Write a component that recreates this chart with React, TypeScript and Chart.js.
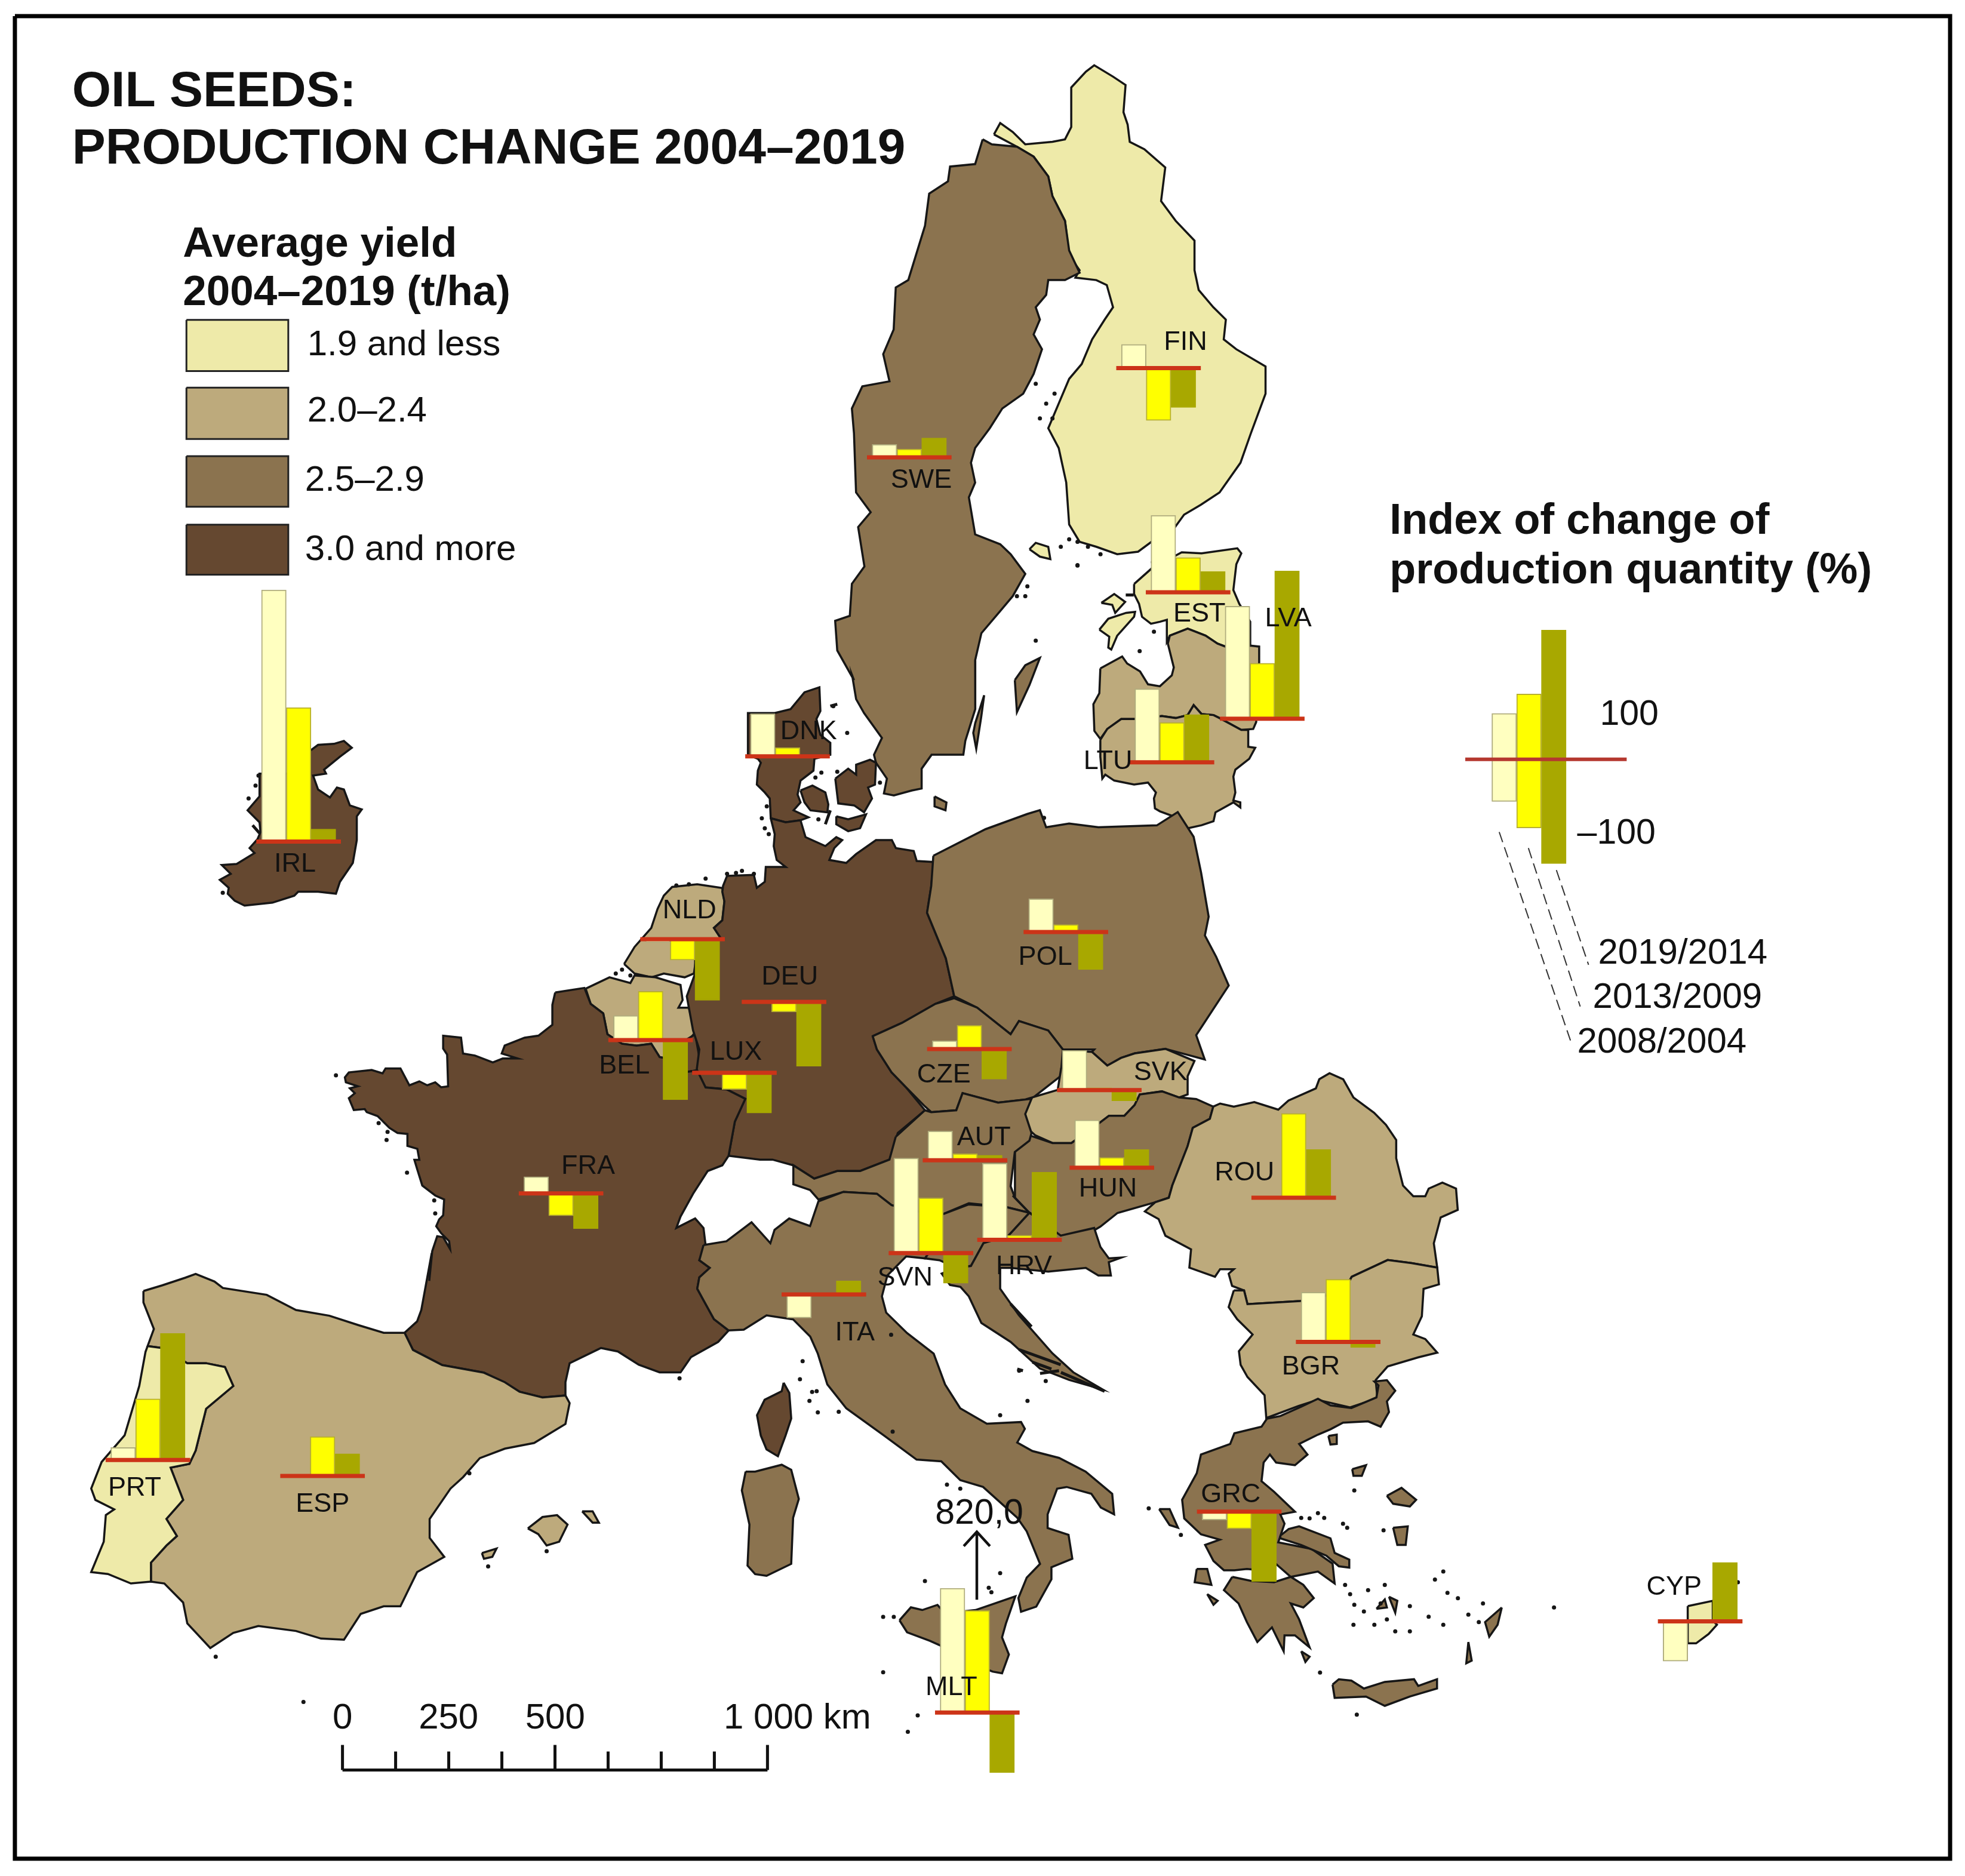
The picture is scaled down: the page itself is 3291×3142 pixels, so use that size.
import React, { useEffect, useRef } from "react";
import { Chart, registerables } from "chart.js";

Chart.register(...registerables);

const W = 3291;
const H = 3142;
const D = 2.103; // preview unit -> picture pixel

type P = [number, number];

// Tracing frames for the outlines (origin + stretch of the view they were read from)
const frame = (x0: number, y0: number, sx: number, sy: number) => (pts: P[]): P[] =>
  pts.map(([x, y]) => [x0 + x / sx, y0 + y / sy] as P);
const M = frame(0, 0, 1 / D, 1 / D);
const C2 = frame(1100, 60, 1.4255, 1.206);
const C4 = frame(900, 1350, 1.4255, 1.568);
const C5 = frame(1700, 1650, 1.742, 1.96);
const C6 = frame(100, 2100, 1.4255, 1.568);
const C7 = frame(1200, 2200, 1.568, 1.742);
const C8 = frame(1900, 2300, 1.4255, 2.24);
const Z1 = frame(540, 1650, 3, 3);
const Z2 = frame(340, 1200, 3, 3);
const Z3 = frame(1200, 1130, 3, 3);
const Z4 = frame(1800, 900, 3, 3);

const YIELD_LOW = "#EEEAA9";
const YIELD_MID = "#BDAA7C";
const YIELD_HIGH = "#8B734F";
const YIELD_TOP = "#654830";

// ---- chart values ----
const countries = ["IRL","FIN","SWE","EST","LVA","LTU","DNK","NLD","BEL","LUX","DEU","POL","CZE","SVK","AUT","HUN","FRA","ROU","SVN","HRV","ITA","BGR","PRT","ESP","GRC","CYP","MLT"];
const index2008 = [543,51,28,166,243,159,92,-7,53,-1,1,72,18,86,63,103,36,0,205,165,-51,107,27,0,-18,-86,820];
const index2013 = [289,-113,18,75,120,86,19,-45,105,-36,-22,16,51,5,14,22,-48,182,119,10,3,135,132,85,-37,0,220];
const index2019 = [27,-85,42,45,319,103,3,-132,-129,-87,-139,-81,-65,-23,11,39,-76,104,-65,146,29,-12,273,48,-151,127,-130];
const legendUp = [99, 141, 279];
const legendDown = [-91, -148, -225];
const cutOff: Record<string, number> = { MLT: 268 };

const periods = ["2008/2004", "2013/2009", "2019/2014"];
const legendClasses = ["1.9 and less", "2.0–2.4", "2.5–2.9", "3.0 and more"];
const scaleKm = [0, 125, 250, 375, 500, 625, 750, 875, 1000];
const scaleLabels = ["0", "250", "500"];

// baseline centre of each glyph, preview units
const glyphX = [236.5,923,724,946.6,1005.8,933.7,626.8,543,517.5,584.4,624,849,772,875.7,768.5,885.7,446,1030.9,741.3,812,655.8,1066.4,116.2,255.6,987.4,1355.4,778.3];
const glyphY = [670,292,363.3,471,572,606.8,602,748,828.5,854.6,798,742.3,835.7,868.5,924.5,930.4,951,954.4,998.6,988,1031.6,1069.5,1163.8,1176.6,1205,1292.6,1365.4];
// label centre of each code, preview units
const labelX = [235,946,735,957,1028,884,645,550,498,587,630,834,753,926,785,884,469,993,722,817,682,1046,107,257,982,1336,759];
const labelY = [689,272,382,489,493,607,583,726,850,839,779,763,857,855,907,948,930,935,1019,1010,1063,1090,1187,1200,1192,1266,1346];

// ---- outlines ----
const shapes: { c: string; p: P[] }[] = [
  { c: YIELD_LOW, p: C2([[805,195],[820,172],[850,190],[880,215],[945,210],[975,205],[990,180],[990,100],[1025,68],[1045,55],[1090,78],[1120,95],[1115,150],[1125,175],[1130,210],[1165,225],[1215,262],[1205,330],[1240,370],[1285,410],[1285,470],[1295,510],[1330,545],[1360,570],[1355,610],[1385,630],[1455,665],[1455,720],[1420,800],[1395,860],[1345,920],[1300,945],[1260,965],[1230,1000],[1190,1015],[1150,1040],[1100,1045],[1050,1030],[1010,1020],[985,985],[978,900],[960,830],[935,790],[960,740],[985,690],[1015,660],[1040,610],[1070,570],[1090,545],[1075,500],[1050,490],[1000,485],[1010,470],[985,440],[975,370],[945,320],[935,280],[900,240],[860,220]]) },
  { c: YIELD_HIGH, p: [...C2([[778,205],[800,215],[860,220],[900,240],[935,280],[945,320],[975,370],[985,430],[1010,475],[975,490],[935,490],[930,520],[905,545],[915,570],[900,600],[920,630],[900,680],[875,720],[825,750],[795,790],[760,830],[750,860],[760,900],[745,930],[760,1005],[820,1025],[845,1045],[880,1085],[850,1130],[820,1160],[775,1205],[760,1260]]), ...Z3([[1300,0],[1300,170],[1250,330],[1240,400],[1080,400],[1030,470],[1030,570],[980,580],[890,605],[840,595],[855,520],[800,440],[790,400],[830,315],[740,190],[700,120],[680,0]]), ...C2([[470,1300],[430,1240],[425,1180],[460,1170],[465,1105],[495,1070],[480,990],[510,960],[475,920],[470,800],[465,750],[490,705],[555,695],[540,640],[565,590],[570,505],[600,490],[640,380],[650,315],[695,290],[700,260],[760,255]])] },
  { c: YIELD_HIGH, p: C2([[855,1300],[880,1270],[915,1255],[890,1310],[860,1365]]) },
  { c: YIELD_HIGH, p: Z3([[1345,100],[1330,210],[1305,370],[1290,290],[1300,240]]) },
  { c: YIELD_HIGH, p: Z3([[1095,610],[1155,640],[1150,680],[1095,660]]) },
  { c: YIELD_LOW, p: Z4([[300,230],[390,150],[410,140],[540,70],[640,75],[820,50],[840,75],[815,130],[800,260],[830,330],[885,420],[885,535],[760,545],[720,530],[660,490],[570,455],[480,490],[465,520],[465,410],[430,420],[385,430],[340,395],[325,330],[300,280]]) },
  { c: YIELD_LOW, p: Z4([[125,460],[170,405],[260,375],[305,370],[300,395],[215,490],[185,560],[170,550],[175,495]]) },
  { c: YIELD_LOW, p: Z4([[135,325],[200,280],[255,320],[205,375],[190,335]]) },
  { c: YIELD_LOW, p: C2([[890,1035],[905,1022],[935,1030],[940,1055],[915,1050]]) },
  { c: YIELD_MID, p: Z4([[130,655],[240,595],[265,630],[330,670],[370,735],[430,745],[490,690],[500,650],[470,530],[480,490],[570,455],[660,490],[720,530],[760,545],[885,540],[930,545],[930,625],[915,925],[900,960],[840,965],[730,905],[700,890],[640,885],[600,840],[570,890],[510,905],[440,895],[310,910],[235,910],[165,960],[130,1010],[100,970],[95,835],[125,780]]) },
  { c: YIELD_MID, p: Z4([[130,1015],[165,960],[235,910],[310,910],[440,895],[510,905],[570,890],[600,840],[640,885],[700,890],[730,905],[840,965],[875,965],[875,1050],[910,1055],[880,1110],[810,1165],[800,1200],[810,1280],[800,1320],[835,1330],[835,1355],[800,1330],[710,1380],[700,1425],[640,1445],[550,1465],[525,1410],[430,1375],[405,1360],[400,1310],[410,1280],[370,1230],[300,1240],[200,1220],[155,1190],[140,1210],[130,1100]]) },
  { c: YIELD_TOP, p: Z3([[290,190],[370,170],[440,85],[515,60],[520,180],[500,220],[520,300],[570,340],[570,400],[490,420],[485,480],[420,530],[405,600],[420,640],[385,680],[460,715],[420,730],[345,740],[270,720],[265,620],[240,590],[200,550],[205,480],[220,440],[205,420],[155,400],[155,190]]) },
  { c: YIELD_TOP, p: Z3([[595,520],[660,470],[700,500],[700,450],[770,425],[800,440],[795,550],[760,565],[780,620],[740,690],[690,655],[610,645]]) },
  { c: YIELD_TOP, p: Z3([[420,580],[480,555],[545,590],[560,650],[555,690],[470,680],[440,640]]) },
  { c: YIELD_TOP, p: Z3([[600,710],[660,725],[750,700],[720,770],[660,785],[600,750]]) },
  { c: YIELD_TOP, p: Z2([[530,170],[570,140],[650,135],[700,120],[740,155],[680,200],[600,265],[610,285],[545,295],[570,365],[630,405],[665,355],[700,365],[730,445],[790,465],[765,500],[765,620],[745,735],[680,830],[660,890],[570,880],[470,880],[450,900],[340,935],[200,950],[150,925],[115,890],[120,860],[75,820],[130,790],[85,745],[160,740],[250,685],[225,660],[265,615],[280,580],[275,530],[215,470],[275,400],[275,285],[530,285]]) },
  { c: YIELD_MID, p: C4([[205,415],[230,370],[270,320],[285,270],[300,235],[320,212],[380,205],[440,215],[445,250],[440,300],[420,320],[435,345],[378,395],[372,440],[350,450],[300,440],[270,450],[230,440]]) },
  { c: YIELD_MID, p: C4([[113,480],[170,450],[220,465],[230,445],[280,450],[340,470],[345,510],[335,530],[360,530],[375,595],[360,615],[345,620],[335,670],[290,660],[270,625],[235,630],[200,625],[165,600],[155,545],[125,520]]) },
  { c: YIELD_TOP, p: C4([[345,620],[375,600],[385,660],[380,695],[350,700],[335,670]]) },
  { c: YIELD_TOP, p: [...Z3([[270,720],[290,800],[285,860],[300,930],[345,965],[245,965],[240,1040],[200,1070],[185,1005],[50,1010],[30,1060]]), ...C4([[440,225],[445,250],[440,300],[420,320],[435,345],[375,400],[375,440],[355,500],[370,590],[385,640],[378,700],[400,740],[450,745],[495,770],[470,830],[455,920],[530,930],[560,930],[610,945],[660,980],[715,960],[770,960],[840,930],[860,860],[925,800],[880,740],[845,700],[810,640],[800,605],[870,570],[950,520],[995,500],[975,400],[930,280],[940,210],[945,160]]), ...Z3([[1090,940],[1005,935],[990,885],[900,870],[880,830],[800,830],[700,900],[650,945],[565,930],[590,870],[630,830],[600,815],[545,860],[445,815],[420,730],[345,740]])] },
  { c: YIELD_TOP, p: [...C4([[40,490],[110,478],[125,520],[155,545],[165,600],[200,625],[235,630],[270,625],[290,660],[335,670],[350,700],[380,695],[400,740],[450,745],[495,770],[470,830],[455,920],[440,945],[405,960],[370,1020],[340,1080],[330,1110],[375,1085],[395,1110],[400,1155],[385,1195],[410,1215],[385,1240],[380,1270],[395,1300],[420,1350],[455,1380],[430,1410],[365,1450],[340,1490],[290,1490],[240,1470],[190,1435]]), ...C6([[1290,250],[1215,290],[1205,340],[1205,375],[1150,380],[1095,365],[1010,315],[910,295],[840,255],[820,210],[850,180],[860,150],[885,0]]), ...Z1([[530,1490],[545,1340],[570,1265],[600,1270],[635,1330],[630,1290],[590,1250],[565,1215],[580,1180],[600,1160],[605,1080],[560,1060],[495,1010],[470,930],[455,880],[480,880],[470,825],[420,810],[420,750],[370,745],[330,720],[270,660],[215,640],[205,625],[150,630],[125,570],[155,545],[130,520],[170,510],[110,490],[105,465],[125,440],[240,428],[295,445],[310,420],[385,420],[430,505],[480,485],[520,505],[560,490],[590,515],[625,510],[620,350],[600,320],[600,255],[690,265],[700,345],[760,355],[850,390],[900,370],[975,370],[895,345],[910,305],[1010,265],[1080,255],[1150,200],[1150,100]])] },
  { c: YIELD_TOP, p: C7([[175,205],[190,235],[195,310],[180,360],[160,420],[130,400],[115,360],[105,300],[125,255],[170,230]]) },
  { c: YIELD_HIGH, p: C4([[945,130],[1070,60],[1170,20],[1200,10],[1215,55],[1270,45],[1340,55],[1480,50],[1530,15],[1568,80]]).concat(M([[957,695],[963,730],[960,745],[969,762],[979,785]]), C5([[530,165],[555,245],[440,210],[350,225],[310,240],[270,265],[225,220]]), C4([[1330,640],[1255,640],[1220,590],[1150,565],[1130,600],[1050,530],[995,500],[975,400],[930,280],[940,210]])) },
  { c: YIELD_HIGH, p: C4([[800,605],[870,570],[950,520],[995,505],[1050,530],[1130,600],[1150,565],[1220,590],[1255,640],[1250,710],[1180,770],[1100,780],[1015,755],[1000,800],[940,805],[925,790],[880,740],[845,700],[810,640]]) },
  { c: YIELD_MID, p: C5([[25,425],[35,375],[125,345],[135,275],[150,215],[225,220],[270,265],[310,240],[350,225],[440,210],[525,250],[505,300],[505,360],[480,370],[430,350],[365,360],[350,395],[320,430],[275,430],[240,460],[165,520],[110,520],[60,495],[30,465]]) },
  { c: YIELD_HIGH, p: C5([[30,490],[110,520],[165,520],[240,460],[275,430],[320,430],[350,395],[365,360],[430,350],[480,370],[530,375],[580,400],[570,440],[520,470],[505,530],[460,660],[450,700],[410,715],[300,750],[250,795],[205,825],[130,825],[50,755],[0,720],[0,640],[0,540]]) },
  { c: YIELD_HIGH, p: C4([[855,870],[925,800],[940,805],[1000,800],[1015,755],[1100,780],[1180,770],[1165,810],[1180,860],[1175,880],[1140,910],[1130,1000],[1140,1030],[1175,1070],[1120,1055],[1030,1045],[965,1075],[900,1065],[845,1050],[810,1020],[730,1015],[670,1035],[650,1010],[610,995],[610,945],[660,980],[715,960],[770,960],[840,930]]) },
  { c: YIELD_HIGH, p: C4([[965,1075],[1030,1048],[1120,1055],[1175,1070],[1125,1130],[1065,1150],[1035,1210],[1000,1215],[960,1195],[925,1190],[950,1150],[965,1110]]) },
  { c: YIELD_HIGH, p: C4([[1135,1025],[1175,1070],[1250,1130],[1330,1110],[1345,1160],[1365,1190],[1395,1188],[1365,1200],[1370,1235],[1340,1235],[1310,1215],[1220,1225],[1130,1215],[1105,1215],[1105,1270],[1150,1340],[1230,1440],[1280,1490],[1350,1535],[1270,1510],[1200,1480],[1130,1410],[1060,1360],[1030,1290],[1010,1265],[985,1260],[965,1230],[1000,1215],[1035,1210],[1065,1150],[1125,1130],[1175,1070]]) },
  { c: YIELD_HIGH, p: [...C4([[395,1155],[450,1145],[510,1095],[555,1150],[565,1115],[600,1085],[650,1105],[670,1040],[730,1015],[810,1020],[845,1050],[900,1065],[965,1075],[965,1110],[950,1150],[925,1190],[880,1185],[835,1235],[822,1290]]), ...C7([[445,0],[500,60],[570,120],[600,210],[640,280],[710,325],[800,320],[810,340],[790,380],[830,405],[900,425],[970,465],[1040,530],[1045,590],[1010,570],[985,530],[920,510],[895,515],[870,590],[870,630],[925,650],[935,720],[880,745],[880,780],[840,860],[800,875],[793,835],[815,775],[850,735],[815,640],[790,600],[700,510],[640,490],[590,435],[525,430],[440,360],[340,280],[290,210],[265,120],[245,70],[200,20],[130,8],[70,50],[30,52]]), ...C4([[420,1350],[395,1300],[380,1270],[385,1240],[410,1215],[385,1195]])] },
  { c: YIELD_HIGH, p: C7([[75,465],[100,465],[170,445],[195,460],[215,545],[200,600],[195,735],[130,770],[100,765],[80,740],[85,620],[65,520]]) },
  { c: YIELD_HIGH, p: C7([[480,900],[510,862],[540,870],[580,855],[600,880],[680,870],[720,855],[785,830],[760,910],[750,950],[768,1000],[750,1055],[725,1050],[680,1030],[610,985],[560,960],[500,935]]) },
  { c: YIELD_MID, p: C5([[580,400],[600,390],[640,400],[700,385],[770,410],[800,380],[880,340],[890,310],[920,290],[960,310],[990,370],[1050,420],[1085,460],[1115,510],[1115,570],[1135,660],[1165,695],[1200,695],[1210,670],[1250,650],[1290,670],[1295,740],[1245,765],[1225,850],[1235,930],[1160,915],[1090,905],[985,960],[960,1010],[835,1040],[680,1050],[670,1005],[635,990],[625,950],[640,935],[600,935],[585,960],[510,930],[515,870],[440,825],[420,770],[380,745],[410,715],[450,700],[460,660],[505,530],[520,470],[570,440]]) },
  { c: YIELD_MID, p: C5([[640,1005],[670,1005],[680,1050],[835,1040],[960,1010],[985,960],[1090,905],[1160,915],[1235,930],[1240,985],[1195,1000],[1190,1090],[1165,1150],[1200,1165],[1235,1210],[1180,1225],[1090,1255],[1055,1300],[1060,1360],[980,1390],[885,1365],[830,1385],[735,1425],[730,1350],[680,1290],[660,1250],[655,1205],[695,1150],[650,1100],[625,1060]]) },
  { c: YIELD_HIGH, p: C8([[318,175],[350,165],[400,130],[440,100],[470,125],[520,135],[580,95],[585,50],[575,35],[605,30],[625,70],[605,110],[610,150],[590,205],[560,185],[500,190],[470,215],[440,235],[395,270],[415,310],[385,350],[340,340],[325,310],[310,340],[305,410],[335,450],[385,525],[350,535],[360,570],[345,640],[425,665],[475,720],[480,795],[440,750],[375,770],[335,715],[335,750],[270,740],[240,745],[215,745],[190,710],[170,650],[205,630],[160,610],[120,550],[115,480],[150,380],[160,310],[230,270],[240,230],[305,205]]) },
  { c: YIELD_HIGH, p: C8([[235,770],[280,785],[335,790],[375,770],[405,800],[430,850],[405,885],[375,870],[395,930],[420,1035],[385,990],[360,990],[358,1050],[330,960],[295,1015],[270,940],[250,870],[215,820]]) },
  { c: YIELD_HIGH, p: C8([[350,615],[370,590],[395,580],[470,625],[480,680],[515,705],[515,735],[490,730],[460,690],[400,650],[350,625]]) },
  { c: YIELD_HIGH, p: C8([[475,1175],[490,1155],[520,1160],[550,1190],[600,1165],[670,1155],[680,1180],[725,1155],[725,1190],[660,1220],[600,1255],[555,1220],[480,1225]]) },
  { c: YIELD_HIGH, p: C8([[605,465],[640,435],[675,480],[660,505],[620,495]]) },
  { c: YIELD_HIGH, p: C8([[620,585],[655,580],[650,650],[630,650]]) },
  { c: YIELD_HIGH, p: C8([[880,885],[870,950],[850,995],[840,940]]) },
  { c: YIELD_HIGH, p: C8([[465,240],[485,235],[485,270],[470,272]]) },
  { c: YIELD_HIGH, p: C8([[522,365],[555,350],[545,390],[525,390]]) },
  { c: YIELD_HIGH, p: C8([[60,515],[85,515],[105,585],[85,575]]) },
  { c: YIELD_HIGH, p: C8([[150,740],[175,740],[185,800],[145,790]]) },
  { c: YIELD_HIGH, p: C8([[175,835],[200,860],[190,875]]) },
  { c: YIELD_HIGH, p: C8([[400,1050],[420,1070],[410,1090]]) },
  { c: YIELD_HIGH, p: C8([[800,1015],[808,1085],[795,1095]]) },
  { c: YIELD_HIGH, p: C8([[580,890],[600,855],[605,885]]) },
  { c: YIELD_HIGH, p: C8([[610,845],[630,860],[625,905]]) },
  { c: YIELD_LOW, p: C8([[1325,880],[1385,860],[1385,935],[1395,950],[1375,985],[1345,1020],[1325,1020]]) },
  { c: YIELD_MID, p: C6([[195,100],[240,85],[295,65],[320,55],[365,75],[385,92],[490,110],[560,150],[640,165],[710,190],[770,210],[820,210],[840,255],[910,295],[1010,315],[1060,340],[1095,365],[1150,380],[1205,375],[1215,395],[1205,450],[1130,500],[1060,515],[1000,540],[960,590],[930,620],[880,700],[880,750],[915,800],[850,840],[810,930],[770,930],[715,950],[675,1018],[620,1015],[560,995],[470,982],[410,1000],[355,1040],[300,975],[290,920],[245,870],[213,865],[213,815],[250,770],[275,745],[250,700],[290,650],[260,565],[305,555],[320,520],[345,410],[410,350],[390,300],[345,290],[300,290],[240,250],[205,245],[220,200],[195,130]]) },
  { c: YIELD_LOW, p: C6([[205,245],[240,250],[300,290],[345,290],[390,300],[410,350],[345,410],[320,520],[305,555],[260,565],[290,650],[250,700],[275,745],[250,770],[213,815],[213,865],[165,870],[110,845],[70,840],[100,760],[105,690],[125,675],[80,650],[70,620],[95,550],[150,480],[185,350],[200,260]]) },
  { c: YIELD_MID, p: C6([[1115,725],[1150,695],[1185,690],[1210,715],[1190,760],[1160,770],[1140,740]]) },
  { c: YIELD_MID, p: C6([[1245,680],[1270,680],[1285,710],[1270,710]]) },
  { c: YIELD_MID, p: C6([[1005,790],[1040,778],[1030,800],[1010,805]]) },
];

const specks: P[] = [
  ...C7([[225,142],[218,195],[262,230],[250,232],[243,258],[265,292],[320,290],[462,348],[605,503],[640,515],[745,300],[817,258],[745,762],[547,785],[715,805],[722,818],[437,890],[465,890],[437,1052],[528,1178],[502,1226],[795,170],[865,200],[458,65]]),
  ...C2([[905,700],[930,740],[950,720],[915,770],[945,770],[965,1030],[985,1015],[1005,1020],[1030,1030],[1060,1045],[1005,1068],[885,1110],[860,1130],[880,1130],[905,1220]]),
  ...C8([[35,512],[400,548],[420,550],[455,548],[440,530],[500,570],[510,585],[527,445],[597,595],[505,800],[517,835],[527,875],[550,900],[560,820],[600,800],[590,870],[660,880],[705,920],[740,750],[720,780],[750,830],[775,850],[835,870],[800,912],[825,940],[525,950],[575,950],[605,930],[625,975],[660,975],[740,950],[1005,885],[445,1130],[533,1288],[1445,790],[112,612]]),
  ...C4([[330,208],[360,205],[400,190],[200,430],[220,445],[185,440],[1210,30]]),
  ...C6([[975,580],[1160,785],[1020,825],[1478,330],[368,1063],[578,1182]]),
  ...Z1([[60,455],[275,695],[320,740],[315,780],[418,945],[555,1085],[560,1150]]),
  ...Z2([[270,295],[255,345],[220,410],[90,885]]),
  ...Z3([[655,290],[585,155],[525,490],[605,485],[495,515],[510,725],[250,660],[240,770],[260,800],[225,720],[50,1000],[95,995],[125,985],[185,1000],[820,540]]),
  ...Z4([[400,470],[328,568],[395,120],[15,135]]),
];

const strokes: P[][] = [
  C7([[830,145],[880,165]]),
  C7([[850,178],[900,170]]),
  C7([[905,175],[1020,230]]),
  C7([[790,165],[805,170]]),
  C4([[1130,1310],[1180,1370]]),
  C4([[1150,1430],[1250,1470]]),
  Z2([[240,545],[275,585]]),
  Z3([[570,155],[605,145]]),
  Z3([[545,750],[570,680]]),
  Z4([[258,285],[298,285]]),
];

const frameBox: P[] = [[21, 23], [3270, 23], [3270, 3117], [21, 3117]];
const swatchTop = [533, 647, 762, 877];
const swatchBottom = [619, 733, 847, 961];
const swatchColors = [YIELD_LOW, YIELD_MID, YIELD_HIGH, YIELD_TOP];

const leaders: P[][] = [
  [[2513, 1393], [2635, 1750]],
  [[2562, 1420], [2649, 1686]],
  [[2609, 1457], [2663, 1616]],
];

// ---- helpers ----
const UNIT = 0.778; // picture pixels per index point
const xy = (p: P) => ({ x: p[0], y: p[1] });
const closed = (p: P[]) => [...p, p[0]].map(xy);
const gap = { x: null as any, y: null as any };
const breakJoin = (list: P[][]) => list.flatMap((s) => [...s.map(xy), gap]);

const barData = (vals: number[], i: number) => {
  const items: any[] = vals.map((v, k) => {
    const base = glyphY[k] * D;
    const shown = cutOff[countries[k]] && i === 0 ? cutOff[countries[k]] : v;
    return { x: glyphX[k] * D, y: v === 0 ? null : [base, base - shown * UNIT] };
  });
  const lb = 1271;
  items.push({ x: 2563, y: [lb, lb - legendUp[i] * UNIT] });
  items.push({ x: 2563, y: [lb, lb - legendDown[i] * UNIT] });
  return items;
};

const F = "'Liberation Sans', Arial, sans-serif";
type T = { t: string; x: number; y: number; s: number; b?: boolean; a?: CanvasTextAlign };
const texts: T[] = [
  { t: "OIL SEEDS:", x: 117, y: 144, s: 84, b: true },
  { t: "PRODUCTION CHANGE 2004–2019", x: 117, y: 240, s: 84, b: true },
  { t: "Average yield", x: 303, y: 401, s: 71, b: true },
  { t: "2004–2019 (t/ha)", x: 303, y: 483, s: 71, b: true },
  { t: legendClasses[0], x: 512, y: 571, s: 60 },
  { t: legendClasses[1], x: 512, y: 682, s: 60 },
  { t: legendClasses[2], x: 508, y: 798, s: 60 },
  { t: legendClasses[3], x: 508, y: 915, s: 60 },
  { t: "Index of change of", x: 2329, y: 866, s: 72, b: true },
  { t: "production quantity (%)", x: 2329, y: 949, s: 72, b: true },
  { t: "100", x: 2682, y: 1192, s: 59 },
  { t: "–100", x: 2644, y: 1391, s: 59 },
  { t: periods[2], x: 2679, y: 1592, s: 60 },
  { t: periods[1], x: 2670, y: 1667, s: 60 },
  { t: periods[0], x: 2644, y: 1742, s: 60 },
  { t: scaleLabels[0], x: 571, y: 2877, s: 60, a: "center" },
  { t: scaleLabels[1], x: 749, y: 2877, s: 60, a: "center" },
  { t: scaleLabels[2], x: 928, y: 2877, s: 60, a: "center" },
  { t: "1 000 km", x: 1211, y: 2877, s: 60 },
  { t: "820,0", x: 1640, y: 2533, s: 59, a: "center" },
  ...countries.map((c, k): T => ({ t: c, x: labelX[k] * D - 3, y: labelY[k] * D - 5, s: 45, a: "center" })),
];

const textPlugin = {
  id: "mapText",
  afterDatasetsDraw(chart: any) {
    const ctx = chart.ctx;
    const xs = chart.scales.x;
    const ys = chart.scales.y;
    ctx.save();
    ctx.fillStyle = "#111";
    ctx.textBaseline = "alphabetic";
    for (const t of texts) {
      ctx.font = `${t.b ? "bold " : ""}${t.s}px ${F}`;
      ctx.textAlign = t.a || "left";
      ctx.fillText(t.t, xs.getPixelForValue(t.x), ys.getPixelForValue(t.y) + t.s * 0.36);
    }
    ctx.restore();
  },
};

const buildDatasets = () => {
  const ds: any[] = [];
  const poly = (p: P[], c: string, order: number, bw = 3.5, bc = "#161616") =>
    ds.push({ type: "line", data: closed(p), fill: "shape", backgroundColor: c, borderColor: bc, borderWidth: bw, pointRadius: 0, tension: 0, order, clip: false });

  shapes.forEach((s, i) => poly(s.p, s.c, 1000 - i));

  ds.push({ type: "scatter", data: specks.map(xy), pointRadius: 3.5, backgroundColor: "#161616", borderWidth: 0, order: 400 });
  ds.push({ type: "line", data: breakJoin(strokes), borderColor: "#161616", borderWidth: 5, pointRadius: 0, fill: false, order: 399 });

  // legend swatches and frame
  swatchTop.forEach((t, i) => poly([[309, t], [480, t], [480, swatchBottom[i]], [309, swatchBottom[i]]], swatchColors[i], 300, 3, "#222"));
  ds.push({ type: "line", data: closed(frameBox), borderColor: "#000", borderWidth: 7, pointRadius: 0, fill: false, order: 5 });

  // glyph bars
  const barColors = ["#FFFFC0", "#FFFF00", "#A8A800"];
  const barEdges = ["#B0AD7E", "#B8B030", "#A8A800"];
  [index2008, index2013, index2019].forEach((v, i) => {
    ds.push({ type: "bar", label: periods[i], data: barData(v, i), backgroundColor: barColors[i], borderColor: barEdges[i], borderWidth: 2, borderSkipped: false, barThickness: 41.5, order: 50 + i });
  });

  // zero lines
  const base: any[] = [];
  glyphX.forEach((x, k) => {
    const cx = x * D;
    const y = glyphY[k] * D;
    base.push({ x: cx - 71, y }, { x: cx + 71, y }, gap);
  });
  ds.push({ type: "line", data: base, borderColor: "#CC3418", borderWidth: 7, pointRadius: 0, fill: false, order: 20 });
  ds.push({ type: "line", data: [{ x: 2456, y: 1271 }, { x: 2727, y: 1271 }], borderColor: "#B5382F", borderWidth: 6, pointRadius: 0, fill: false, order: 19 });

  // leader lines
  ds.push({ type: "line", data: breakJoin(leaders), borderColor: "#333", borderWidth: 2, borderDash: [18, 9], pointRadius: 0, fill: false, order: 18 });

  // scale bar
  const sx = (km: number) => 571 + km * 0.7135;
  const scalePts: any[] = [{ x: sx(0), y: 2968 }, { x: sx(1000), y: 2968 }, gap];
  scaleKm.forEach((km) => {
    const major = km % 500 === 0;
    scalePts.push({ x: sx(km), y: 2968 }, { x: sx(km), y: major ? 2926 : 2937 }, gap);
  });
  ds.push({ type: "line", data: scalePts, borderColor: "#111", borderWidth: 5, pointRadius: 0, fill: false, order: 17 });

  // break arrow for the value off the scale
  const ax = 1636;
  ds.push({ type: "line", data: [{ x: ax, y: 2682 }, { x: ax, y: 2570 }, gap, { x: ax - 22, y: 2592 }, { x: ax, y: 2568 }, { x: ax + 22, y: 2592 }], borderColor: "#111", borderWidth: 4.5, pointRadius: 0, fill: false, order: 16 });
  return ds;
};

export default function App() {
  const ref = useRef<HTMLCanvasElement>(null);
  useEffect(() => {
    const chart = new Chart(ref.current as HTMLCanvasElement, {
      type: "scatter",
      data: { datasets: buildDatasets() },
      options: {
        animation: false,
        responsive: false,
        devicePixelRatio: 1,
        events: [],
        layout: { padding: 0 },
        plugins: { legend: { display: false }, title: { display: false }, tooltip: { enabled: false } },
        scales: {
          x: { type: "linear", min: 0, max: W, display: false, offset: false, grid: { display: false } },
          y: { type: "linear", min: 0, max: H, reverse: true, display: false, grid: { display: false } },
        },
      } as any,
      plugins: [textPlugin],
    } as any);
    return () => chart.destroy();
  }, []);
  return (
    <canvas
      ref={ref}
      width={W}
      height={H}
      style={{ position: "absolute", left: 0, top: 0, width: W, height: H, background: "#fff" }}
    />
  );
}
